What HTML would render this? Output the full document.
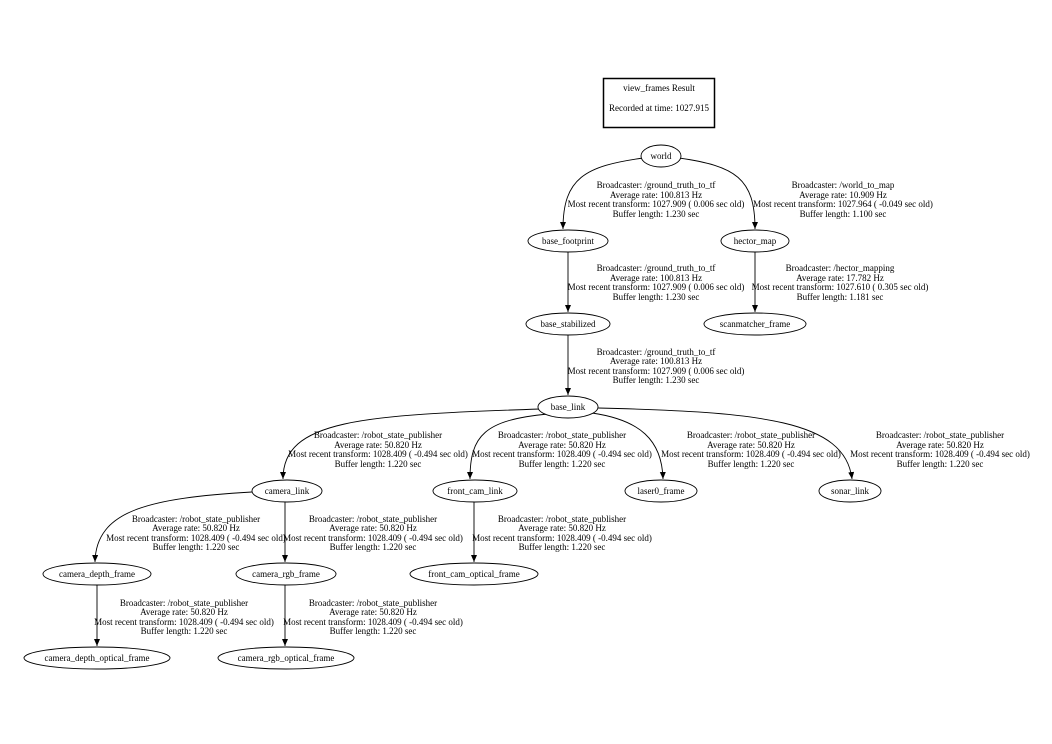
<!DOCTYPE html>
<html><head><meta charset="utf-8"><style>
html,body{margin:0;padding:0;background:#fff;}
svg{display:block;}
text{font-family:"Liberation Serif",serif;font-size:9px;fill:#000;}
</style></head><body>
<svg width="1052" height="744" viewBox="0 0 1052 744" xmlns="http://www.w3.org/2000/svg">
<defs><marker id="a" markerWidth="8" markerHeight="8" refX="7" refY="3" orient="auto" markerUnits="userSpaceOnUse"><path d="M0,0 L7,3 L0,6 z" fill="#000"/></marker></defs>
<rect x="603.5" y="78.5" width="111" height="49" fill="none" stroke="#000" stroke-width="1.5"/>
<text x="659" y="91" text-anchor="middle">view_frames Result</text>
<text x="659" y="111" text-anchor="middle">Recorded at time: 1027.915</text>
<g fill="none" stroke="#000" stroke-width="0.9" marker-end="url(#a)">
<path d="M643,158 C585,166 563,178 563,229"/>
<path d="M679,158 C735,166 755,178 755,229"/>
<path d="M568,252 L568,312"/>
<path d="M755,252 L755,312"/>
<path d="M568,335 L568,395"/>
<path d="M540,409 C360,415 283,420 283,479"/>
<path d="M548,414 C485,420 470,435 470,479"/>
<path d="M592,413 C640,420 662,440 663,479"/>
<path d="M598,408 C760,412 845,420 852,479"/>
<path d="M252,492 C150,498 96,510 95,562"/>
<path d="M285,502 L285,562"/>
<path d="M474,502 L474,562"/>
<path d="M97,585 L97,646"/>
<path d="M285,585 L285,646"/>
</g>
<g fill="#fff" stroke="#000" stroke-width="0.9">
<ellipse cx="661" cy="156" rx="20" ry="11"/>
<ellipse cx="568" cy="241" rx="40" ry="11"/>
<ellipse cx="755" cy="241" rx="34" ry="11"/>
<ellipse cx="568" cy="324" rx="42" ry="11"/>
<ellipse cx="755" cy="324" rx="51" ry="11"/>
<ellipse cx="568" cy="407" rx="30" ry="11"/>
<ellipse cx="287" cy="491" rx="35" ry="11"/>
<ellipse cx="475" cy="491" rx="42" ry="11"/>
<ellipse cx="661" cy="491" rx="36" ry="11"/>
<ellipse cx="850" cy="491" rx="31" ry="11"/>
<ellipse cx="97" cy="574" rx="54" ry="11"/>
<ellipse cx="286" cy="574" rx="50" ry="11"/>
<ellipse cx="474" cy="574" rx="64" ry="11"/>
<ellipse cx="97" cy="658" rx="73" ry="11"/>
<ellipse cx="286" cy="658" rx="68" ry="11"/>
</g>
<g text-anchor="middle">
<text x="661" y="159">world</text>
<text x="568" y="244">base_footprint</text>
<text x="755" y="244">hector_map</text>
<text x="568" y="327">base_stabilized</text>
<text x="755" y="327">scanmatcher_frame</text>
<text x="568" y="410">base_link</text>
<text x="287" y="494">camera_link</text>
<text x="475" y="494">front_cam_link</text>
<text x="661" y="494">laser0_frame</text>
<text x="850" y="494">sonar_link</text>
<text x="97" y="577">camera_depth_frame</text>
<text x="286" y="577">camera_rgb_frame</text>
<text x="474" y="577">front_cam_optical_frame</text>
<text x="97" y="661">camera_depth_optical_frame</text>
<text x="286" y="661">camera_rgb_optical_frame</text>

<text x="656" y="188">Broadcaster: /ground_truth_to_tf</text>
<text x="656" y="198">Average rate: 100.813 Hz</text>
<text x="656" y="207">Most recent transform: 1027.909 ( 0.006 sec old)</text>
<text x="656" y="217">Buffer length: 1.230 sec</text>

<text x="843" y="188">Broadcaster: /world_to_map</text>
<text x="843" y="198">Average rate: 10.909 Hz</text>
<text x="843" y="207">Most recent transform: 1027.964 ( -0.049 sec old)</text>
<text x="843" y="217">Buffer length: 1.100 sec</text>

<text x="656" y="271">Broadcaster: /ground_truth_to_tf</text>
<text x="656" y="281">Average rate: 100.813 Hz</text>
<text x="656" y="290">Most recent transform: 1027.909 ( 0.006 sec old)</text>
<text x="656" y="300">Buffer length: 1.230 sec</text>

<text x="840" y="271">Broadcaster: /hector_mapping</text>
<text x="840" y="281">Average rate: 17.782 Hz</text>
<text x="840" y="290">Most recent transform: 1027.610 ( 0.305 sec old)</text>
<text x="840" y="300">Buffer length: 1.181 sec</text>

<text x="656" y="355">Broadcaster: /ground_truth_to_tf</text>
<text x="656" y="364">Average rate: 100.813 Hz</text>
<text x="656" y="374">Most recent transform: 1027.909 ( 0.006 sec old)</text>
<text x="656" y="383">Buffer length: 1.230 sec</text>

<text x="378" y="438">Broadcaster: /robot_state_publisher</text>
<text x="378" y="448">Average rate: 50.820 Hz</text>
<text x="378" y="457">Most recent transform: 1028.409 ( -0.494 sec old)</text>
<text x="378" y="467">Buffer length: 1.220 sec</text>

<text x="562" y="438">Broadcaster: /robot_state_publisher</text>
<text x="562" y="448">Average rate: 50.820 Hz</text>
<text x="562" y="457">Most recent transform: 1028.409 ( -0.494 sec old)</text>
<text x="562" y="467">Buffer length: 1.220 sec</text>

<text x="751" y="438">Broadcaster: /robot_state_publisher</text>
<text x="751" y="448">Average rate: 50.820 Hz</text>
<text x="751" y="457">Most recent transform: 1028.409 ( -0.494 sec old)</text>
<text x="751" y="467">Buffer length: 1.220 sec</text>

<text x="940" y="438">Broadcaster: /robot_state_publisher</text>
<text x="940" y="448">Average rate: 50.820 Hz</text>
<text x="940" y="457">Most recent transform: 1028.409 ( -0.494 sec old)</text>
<text x="940" y="467">Buffer length: 1.220 sec</text>

<text x="196" y="522">Broadcaster: /robot_state_publisher</text>
<text x="196" y="531">Average rate: 50.820 Hz</text>
<text x="196" y="541">Most recent transform: 1028.409 ( -0.494 sec old)</text>
<text x="196" y="550">Buffer length: 1.220 sec</text>

<text x="373" y="522">Broadcaster: /robot_state_publisher</text>
<text x="373" y="531">Average rate: 50.820 Hz</text>
<text x="373" y="541">Most recent transform: 1028.409 ( -0.494 sec old)</text>
<text x="373" y="550">Buffer length: 1.220 sec</text>

<text x="562" y="522">Broadcaster: /robot_state_publisher</text>
<text x="562" y="531">Average rate: 50.820 Hz</text>
<text x="562" y="541">Most recent transform: 1028.409 ( -0.494 sec old)</text>
<text x="562" y="550">Buffer length: 1.220 sec</text>

<text x="184" y="606">Broadcaster: /robot_state_publisher</text>
<text x="184" y="615">Average rate: 50.820 Hz</text>
<text x="184" y="625">Most recent transform: 1028.409 ( -0.494 sec old)</text>
<text x="184" y="634">Buffer length: 1.220 sec</text>

<text x="373" y="606">Broadcaster: /robot_state_publisher</text>
<text x="373" y="615">Average rate: 50.820 Hz</text>
<text x="373" y="625">Most recent transform: 1028.409 ( -0.494 sec old)</text>
<text x="373" y="634">Buffer length: 1.220 sec</text>
</g>
</svg>
</body></html>
